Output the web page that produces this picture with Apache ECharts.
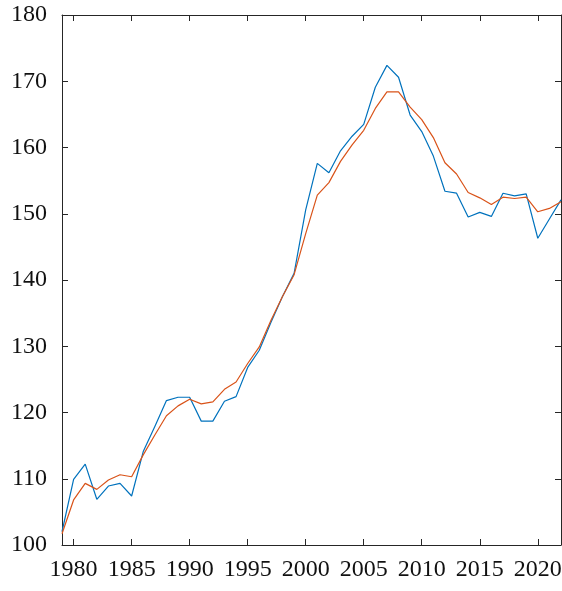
<!DOCTYPE html>
<html>
<head>
<meta charset="utf-8">
<script src="https://cdn.jsdelivr.net/npm/echarts@6/dist/echarts.min.js"></script>
<style>
  html, body { margin: 0; padding: 0; background: #fff; }
  #chart { width: 562px; height: 591px; }
</style>
</head>
<body>
<div id="chart"></div>
<script>
const years = []
for (let y = 1979; y <= 2022; y++) years.push(y)

// blue series
const seriesA = [
  102.0, 109.9, 112.2, 106.9, 108.9, 109.3, 107.4, 114.1, 117.9, 121.8,
  122.3, 122.3, 118.7, 118.7, 121.7, 122.4, 126.8, 129.4, 133.6, 137.5,
  141.0, 150.6, 157.6, 156.2, 159.5, 161.7, 163.5, 169.1, 172.4, 170.6,
  164.9, 162.4, 158.7, 153.4, 153.1, 149.5, 150.2, 149.6, 153.1, 152.7,
  153.0, 146.3, 149.2, 152.1
]
// orange series
const seriesB = [
  101.7, 106.8, 109.3, 108.4, 109.8, 110.6, 110.3, 113.6, 116.6, 119.5,
  121.0, 122.0, 121.3, 121.6, 123.5, 124.6, 127.4, 129.9, 133.9, 137.5,
  140.8, 147.0, 152.8, 154.7, 157.9, 160.4, 162.6, 165.9, 168.4, 168.4,
  166.1, 164.2, 161.5, 157.7, 156.0, 153.2, 152.4, 151.4, 152.5, 152.3,
  152.5, 150.3, 150.8, 151.8
]
const xTicks = [1980, 1985, 1990, 1995, 2000, 2005, 2010, 2015, 2020]

const chart = echarts.init(document.getElementById('chart'))
const axisColor = '#262626'
const font = '"Liberation Serif", "Times New Roman", serif'

const baseX = {
  type: 'value',
  min: 1979,
  max: 2022,
  axisLine: { show: true, onZero: false, lineStyle: { color: axisColor, width: 1 } },
  axisTick: { show: true, inside: true, length: 6, customValues: xTicks, lineStyle: { color: axisColor } },
  splitLine: { show: false }
}
const baseY = {
  type: 'value',
  min: 100,
  max: 180,
  interval: 10,
  axisLine: { show: true, onZero: false, lineStyle: { color: axisColor, width: 1 } },
  axisTick: { show: true, inside: true, length: 6, lineStyle: { color: axisColor } },
  splitLine: { show: false }
}

const option = {
  animation: false,
  backgroundColor: '#fff',
  grid: { left: 62, right: 1, top: 15, bottom: 46, containLabel: false, outerBoundsMode: 'none' },
  xAxis: [
    Object.assign({}, baseX, {
      position: 'bottom',
      axisLabel: {
        customValues: xTicks,
        formatter: v => String(v),
        color: '#111',
        fontFamily: font,
        fontSize: 24,
        margin: 13
      }
    }),
    Object.assign({}, baseX, { position: 'top', axisLabel: { show: false } })
  ],
  yAxis: [
    Object.assign({}, baseY, {
      position: 'left',
      axisLabel: { color: '#111', fontFamily: font, fontSize: 24, margin: 15 }
    }),
    Object.assign({}, baseY, { position: 'right', axisLabel: { show: false } })
  ],
  series: [
    {
      type: 'line',
      data: years.map((y, i) => [y, seriesA[i]]),
      showSymbol: false,
      lineStyle: { color: '#0072BD', width: 1.2 },
      itemStyle: { color: '#0072BD' }
    },
    {
      type: 'line',
      data: years.map((y, i) => [y, seriesB[i]]),
      showSymbol: false,
      lineStyle: { color: '#D95319', width: 1.2 },
      itemStyle: { color: '#D95319' }
    }
  ]
}
chart.setOption(option)
</script>
</body>
</html>
